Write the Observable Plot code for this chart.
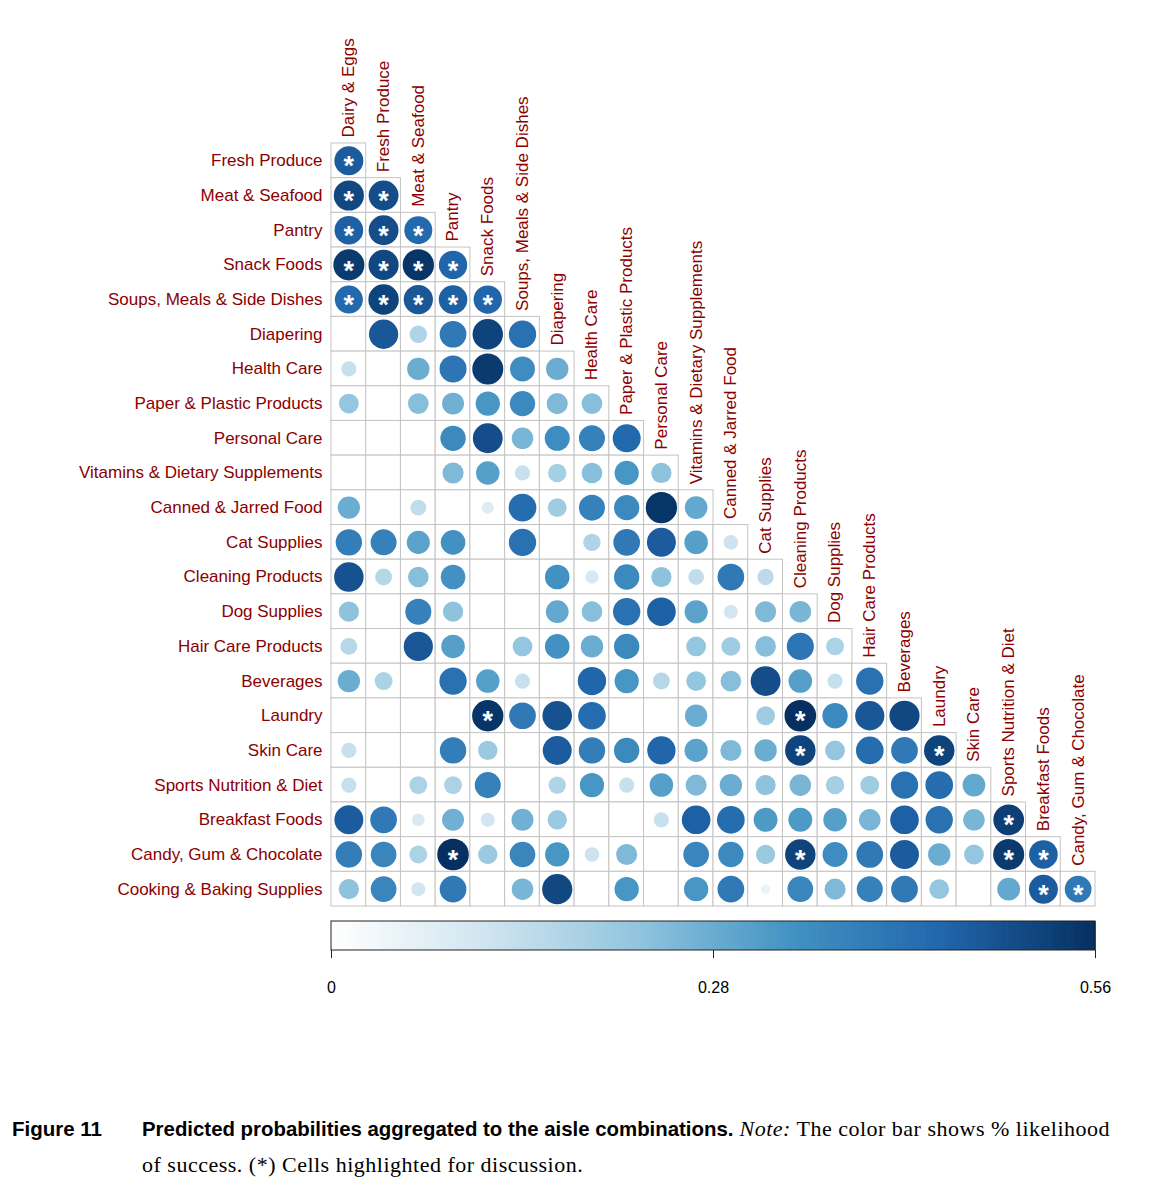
<!DOCTYPE html>
<html>
<head>
<meta charset="utf-8">
<script src="https://cdn.jsdelivr.net/npm/d3@7"></script>
<script src="https://cdn.jsdelivr.net/npm/@observablehq/plot@0.6"></script>
<style>
  html, body { margin: 0; padding: 0; background: #fff; overflow: hidden; }
  #wrap { position: relative; width: 1157px; height: 1200px; }
  #chart svg, #bar svg { display: block; }
  #caption { position: absolute; left: 0; top: 1111px; width: 1157px; }
  #caption .fig { position: absolute; left: 12px; top: 0; font-family: "Liberation Sans", Arial, sans-serif; font-weight: bold; font-size: 20.5px; line-height: 36px; }
  #caption .txt { position: absolute; left: 142px; top: 0; width: 1010px; font-family: "Liberation Serif", "Times New Roman", serif; font-size: 22px; letter-spacing: 0.5px; line-height: 36px; color: #000; }
  #caption .txt b { font-family: "Liberation Sans", Arial, sans-serif; font-size: 20.4px; letter-spacing: 0; }
</style>
</head>
<body>
<div id="wrap">
  <div id="chart"></div>
  <div id="bar"></div>
  <div id="caption">
    <div class="fig">Figure 11</div>
    <div class="txt"><b>Predicted probabilities aggregated to the aisle combinations.</b> <i>Note:</i> The color bar shows % likelihood<br>of success. (*) Cells highlighted for discussion.</div>
  </div>
</div>
<script>
// ---- data ----
const aisles = [
  "Dairy & Eggs", "Fresh Produce", "Meat & Seafood", "Pantry", "Snack Foods",
  "Soups, Meals & Side Dishes", "Diapering", "Health Care", "Paper & Plastic Products",
  "Personal Care", "Vitamins & Dietary Supplements", "Canned & Jarred Food", "Cat Supplies",
  "Cleaning Products", "Dog Supplies", "Hair Care Products", "Beverages", "Laundry",
  "Skin Care", "Sports Nutrition & Diet", "Breakfast Foods", "Candy, Gum & Chocolate",
  "Cooking & Baking Supplies"
];
const rowAisles = aisles.slice(1);     // row labels (left)
const colAisles = aisles.slice(0, 22); // column labels (top)

// values[i][j]: row aisle i+1 vs column aisle j (null = empty cell)
const values = [
  [0.47],
  [0.51, 0.50],
  [0.46, 0.50, 0.44],
  [0.54, 0.51, 0.55, 0.45],
  [0.44, 0.52, 0.48, 0.46, 0.45],
  [null, 0.48, 0.17, 0.40, 0.52, 0.42],
  [0.13, null, 0.28, 0.41, 0.54, 0.35, 0.28],
  [0.22, null, 0.24, 0.27, 0.33, 0.36, 0.25, 0.24],
  [null, null, null, 0.36, 0.50, 0.26, 0.35, 0.38, 0.44],
  [null, null, null, 0.25, 0.31, 0.13, 0.19, 0.24, 0.33, 0.23],
  [0.28, null, 0.14, null, 0.08, 0.43, 0.20, 0.38, 0.36, 0.55, 0.29],
  [0.39, 0.38, 0.30, 0.34, null, 0.42, null, 0.17, 0.40, 0.47, 0.31, 0.12],
  [0.49, 0.16, 0.24, 0.34, null, null, 0.34, 0.10, 0.36, 0.23, 0.14, 0.40, 0.15],
  [0.23, null, 0.38, 0.23, null, null, 0.29, 0.24, 0.42, 0.46, 0.30, 0.11, 0.25, 0.26],
  [0.16, null, 0.48, 0.31, null, 0.22, 0.34, 0.28, 0.36, null, 0.22, 0.20, 0.24, 0.41, 0.18],
  [0.28, 0.18, null, 0.42, 0.31, 0.13, null, 0.45, 0.33, 0.16, 0.22, 0.24, 0.50, 0.31, 0.13, 0.42],
  [null, null, null, null, 0.55, 0.40, 0.49, 0.43, null, null, 0.28, null, 0.20, 0.56, 0.36, 0.48, 0.51],
  [0.13, null, null, 0.39, 0.21, null, 0.47, 0.39, 0.36, 0.45, 0.30, 0.25, 0.28, 0.52, 0.22, 0.43, 0.40, 0.52],
  [0.13, null, 0.18, 0.18, 0.38, null, 0.17, 0.33, 0.13, 0.31, 0.25, 0.28, 0.23, 0.26, 0.19, 0.20, 0.42, 0.43, 0.29],
  [0.47, 0.40, 0.09, 0.27, 0.11, 0.27, 0.21, null, null, 0.13, 0.46, 0.43, 0.32, 0.32, 0.31, 0.26, 0.46, 0.42, 0.26, 0.53],
  [0.39, 0.37, 0.18, 0.56, 0.21, 0.37, 0.33, 0.12, 0.25, null, 0.37, 0.36, 0.21, 0.52, 0.35, 0.40, 0.47, 0.28, 0.22, 0.54, 0.46],
  [0.23, 0.37, 0.11, 0.40, null, 0.26, 0.51, null, 0.33, null, 0.33, 0.40, 0.05, 0.37, 0.25, 0.38, 0.40, 0.22, null, 0.29, 0.47, 0.40]
];

// highlighted cells [row, col]
const starred = [
  [0,0],[1,0],[1,1],[2,0],[2,1],[2,2],[3,0],[3,1],[3,2],[3,3],
  [4,0],[4,1],[4,2],[4,3],[4,4],
  [16,4],[16,13],[17,13],[17,17],[19,19],
  [20,3],[20,13],[20,19],[20,20],[21,20],[21,21]
];

const scaleMax = 0.56;
const barTicks = [0, 0.28, 0.56];
const barTickLabels = ["0", "0.28", "0.56"];
const palette = ["#FFFFFF", "#D1E5F0", "#92C5DE", "#4393C3", "#2166AC", "#053061"];

// ---- build table ----
const starKey = new Set(starred.map(([r, c]) => r + "," + c));
const cells = [];
values.forEach((row, i) => row.forEach((v, j) => {
  cells.push({row: i, col: j, value: v, star: starKey.has(i + "," + j)});
}));
const rowLab = rowAisles.map((name, i) => ({name, i}));
const colLab = colAisles.map((name, j) => ({name, j}));

const colorInterp = d3.piecewise(d3.interpolateRgb, palette);
const labelRed = "#8b0000";
const font = "'Liberation Sans', Arial, Helvetica, sans-serif";

const main = Plot.plot({
  width: 1157,
  height: 915,
  marginTop: 143,
  marginBottom: 9,
  marginLeft: 331,
  marginRight: 62,
  style: {fontFamily: font, background: "white"},
  x: {domain: [0, 22], axis: null},
  y: {domain: [0, 22], reverse: true, axis: null},
  color: {type: "linear", domain: [0, scaleMax], interpolate: colorInterp},
  r: {type: "sqrt", domain: [0, scaleMax], range: [0, 15.8]},
  marks: [
    Plot.rect(cells, {x1: "col", x2: d => d.col + 1, y1: "row", y2: d => d.row + 1,
      fill: "white", stroke: "#c4c4c4", strokeWidth: 1}),
    Plot.dot(cells.filter(d => d.value != null), {
      x: d => d.col + 0.5, y: d => d.row + 0.5, r: "value", fill: "value", stroke: null}),
    Plot.text(cells.filter(d => d.star), {
      x: d => d.col + 0.5, y: d => d.row + 0.5, text: () => "*",
      fill: "white", fontSize: 27, fontWeight: "bold", dy: 6}),
    Plot.text(rowLab, {x: 0, y: d => d.i + 0.5, text: "name", textAnchor: "end",
      dx: -9, fill: labelRed, fontSize: 17}),
    Plot.text(colLab, {x: d => d.j + 0.5, y: d => d.j, text: "name", rotate: -90,
      textAnchor: "start", dy: -6, fill: labelRed, fontSize: 17})
  ]
});
document.getElementById("chart").appendChild(main);

const barSteps = d3.range(0, 200).map(k => ({a: k * scaleMax / 200, b: (k + 1) * scaleMax / 200}));
const bar = Plot.plot({
  width: 1157,
  height: 100,
  marginTop: 6,
  marginBottom: 65,
  marginLeft: 331,
  marginRight: 62,
  style: {fontFamily: font, background: "white"},
  x: {domain: [0, scaleMax], axis: null},
  y: {domain: [0, 1], reverse: true, axis: null},
  color: {type: "linear", domain: [0, scaleMax], interpolate: colorInterp},
  marks: [
    Plot.rect(barSteps, {x1: "a", x2: d => d.b + 0.0005, y1: 0, y2: 1, fill: d => (d.a + d.b) / 2}),
    Plot.rect([0], {x1: 0, x2: scaleMax, y1: 0, y2: 1, fill: "none", stroke: "#222", strokeWidth: 1}),
    Plot.ruleX(barTicks, {x: d => d, y1: 1, y2: 1.28, stroke: "#222"}),
    Plot.text(barTicks, {x: d => d, y: 1, text: (d, i) => barTickLabels[i], dy: 37, fontSize: 16, fill: "#000"})
  ]
});
document.getElementById("bar").appendChild(bar);
</script>
</body>
</html>
